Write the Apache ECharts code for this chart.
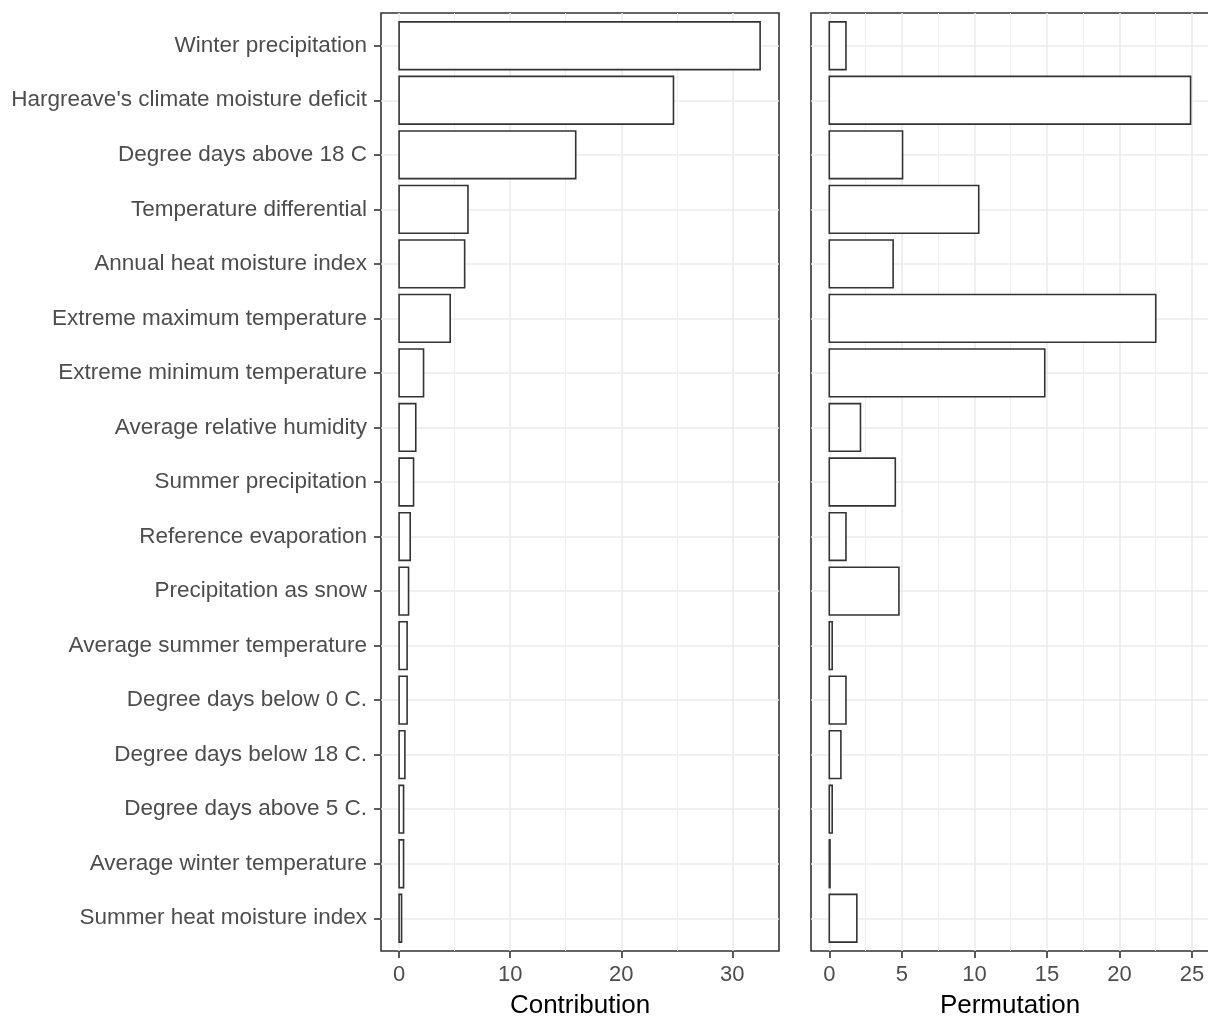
<!DOCTYPE html>
<html><head><meta charset="utf-8">
<script src="https://cdn.jsdelivr.net/npm/echarts@6/dist/echarts.min.js"></script>
<style>html,body{margin:0;padding:0;background:#fff}#c{width:1208px;height:1016px}</style>
</head><body><div id="c"></div>
<script>
const categories = [
  "Winter precipitation",
  "Hargreave's climate moisture deficit",
  "Degree days above 18 C",
  "Temperature differential",
  "Annual heat moisture index",
  "Extreme maximum temperature",
  "Extreme minimum temperature",
  "Average relative humidity",
  "Summer precipitation",
  "Reference evaporation",
  "Precipitation as snow",
  "Average summer temperature",
  "Degree days below 0 C.",
  "Degree days below 18 C.",
  "Degree days above 5 C.",
  "Average winter temperature",
  "Summer heat moisture index"
];
const contribution = [32.5, 24.7, 15.9, 6.2, 5.9, 4.6, 2.2, 1.5, 1.3, 1.0, 0.85, 0.72, 0.72, 0.52, 0.4, 0.4, 0.22];
const permutation  = [1.15, 24.9, 5.05, 10.3, 4.4, 22.5, 14.85, 2.15, 4.55, 1.15, 4.8, 0.2, 1.15, 0.8, 0.2, 0.05, 1.9];
const contributionTicks = [0, 10, 20, 30];
const contributionMinorTicks = [5, 15, 25];
const permutationTicks = [0, 5, 10, 15, 20, 25];
const permutationMinorTicks = [2.5, 7.5, 12.5, 17.5, 22.5];
const panelTitles = ["Contribution", "Permutation"];

const FONT = "Liberation Sans, Arial, sans-serif";
const catIdx = categories.map((_, i) => i);

function xMain(gi, ticks, min, max, name) {
  return {
    gridIndex: gi, type: 'value', min: min, max: max, position: 'bottom',
    axisLine: { show: false, onZero: false },
    axisTick: { show: true, customValues: ticks, length: 7, lineStyle: { color: '#333', width: 1.6 } },
    axisLabel: { customValues: ticks, margin: 13, color: '#4D4D4D', fontSize: 22, fontFamily: FONT },
    splitLine: { show: true, lineStyle: { color: '#EBEBEB', width: 1.6 } },
    name: name, nameLocation: 'middle', nameGap: 42,
    nameTextStyle: { fontSize: 26, color: '#000', fontFamily: FONT }
  };
}
function xMinor(gi, ticks, min, max) {
  return {
    gridIndex: gi, type: 'value', min: min, max: max, position: 'top',
    axisLine: { show: false, onZero: false },
    axisTick: { show: false, customValues: ticks },
    axisLabel: { show: false, customValues: ticks },
    splitLine: { show: true, lineStyle: { color: '#EFEFEF', width: 1 } }
  };
}
function yAxis(gi, showLabels) {
  return {
    gridIndex: gi, type: 'value', inverse: true, min: -0.6, max: 16.6, position: 'left',
    axisLine: { show: false, onZero: false },
    axisTick: { show: showLabels, customValues: catIdx, length: 7, lineStyle: { color: '#333', width: 1.6 } },
    axisLabel: { show: showLabels, customValues: catIdx, margin: 14, color: '#4D4D4D', fontSize: 22.5, fontFamily: FONT,
      padding: [3, 0, 0, 0], formatter: v => categories[Math.round(v)] },
    splitLine: { show: true, lineStyle: { color: '#EBEBEB', width: 1.6 } }
  };
}
function barSeries(xi, yi, values) {
  return {
    type: 'custom', xAxisIndex: xi, yAxisIndex: yi,
    encode: { x: 0, y: 1 },
    data: values.map((v, i) => [v, i]),
    renderItem: function (params, api) {
      const v = api.value(0), i = api.value(1);
      const p0 = api.coord([0, i]);
      const p1 = api.coord([v, i]);
      const h = api.size([0, 0.875])[1];
      return {
        type: 'rect',
        shape: { x: p0[0], y: p0[1] - h / 2, width: p1[0] - p0[0], height: h },
        style: { fill: '#fff', stroke: '#333', lineWidth: 1.6 }
      };
    },
    z: 5
  };
}

const chart = echarts.init(document.getElementById('c'), null, { renderer: 'canvas' });
chart.setOption({
  animation: false,
  backgroundColor: '#fff',
  grid: [
    { left: 381, top: 13, width: 398, height: 938, show: true, borderColor: '#333', borderWidth: 1.6, backgroundColor: 'transparent', containLabel: false, outerBoundsMode: 'none' },
    { left: 811, top: 13, width: 398, height: 938, show: true, borderColor: '#333', borderWidth: 1.6, backgroundColor: 'transparent', containLabel: false, outerBoundsMode: 'none' }
  ],
  xAxis: [
    xMain(0, contributionTicks, -1.63, 34.2, panelTitles[0]),
    xMinor(0, contributionMinorTicks, -1.63, 34.2),
    xMain(1, permutationTicks, -1.26, 26.17, panelTitles[1]),
    xMinor(1, permutationMinorTicks, -1.26, 26.17)
  ],
  yAxis: [yAxis(0, true), yAxis(1, false)],
  series: [
    barSeries(0, 0, contribution),
    barSeries(2, 1, permutation)
  ]
});
</script></body></html>
